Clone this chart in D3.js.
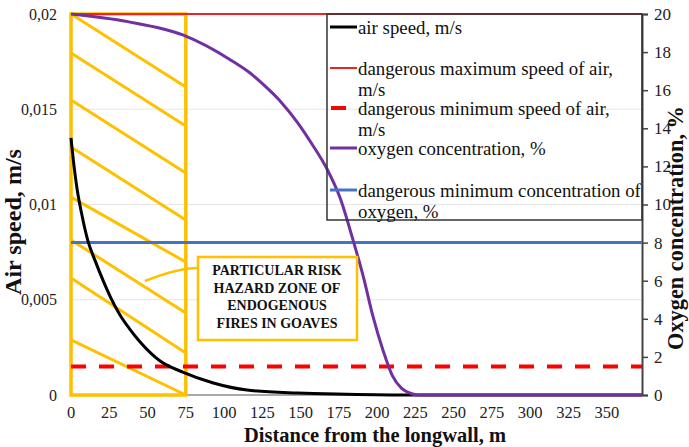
<!DOCTYPE html>
<html>
<head>
<meta charset="utf-8">
<script src="https://cdn.jsdelivr.net/npm/d3@7"></script>
<style>
  body { margin: 0; background: #fff; }
  text { font-family: "Liberation Serif", "Times New Roman", serif; }
</style>
</head>
<body>
<div id="chart"></div>
<script>
// values
const speedDist = [0, 2, 4, 7, 11, 16, 21, 26, 32, 38, 45, 58, 73, 93, 115, 148, 180, 223, 373];
const airSpeed = [0.0135, 0.0120, 0.0108, 0.0095, 0.0081, 0.0070, 0.0060, 0.0051, 0.0042, 0.0035, 0.0028, 0.0018, 0.0012, 0.00063, 0.00026, 0.0001, 0.00004, 0, 0];

const oxyDist = [0, 37, 73, 104, 117, 127, 137, 148, 158, 167, 176, 184, 191, 197, 204, 210, 216, 222, 227, 373];
const oxygen = [20, 19.6, 18.9, 17.6, 16.9, 16.2, 15.4, 14.3, 13.1, 11.9, 10.3, 8.2, 6.2, 4.2, 2.3, 1.0, 0.35, 0.08, 0, 0];

const maxSpeed = 0.02;
const minSpeed = 0.0015;
const minOxygen = 8;
const zoneEnd = 75;

const xTicks = d3.range(0, 351, 25);
const leftTicks = [0, 0.005, 0.01, 0.015, 0.02];
const rightTicks = d3.range(0, 21, 2);

// hatch lines of the risk zone: speed at x=0 and at x=75
const hatchLeft = [0.02, 0.01795, 0.01549, 0.01302, 0.01039, 0.00814, 0.00614, 0.00289];
const hatchRight = [0.01617, 0.01412, 0.01165, 0.00919, 0.00698, 0.0043, 0.0022, 0];

const legendItems = [
  { lines: ["air speed, m/s"], color: "#000", dash: null, w: 3 },
  { lines: ["dangerous maximum speed of air,", "m/s"], color: "#e8252b", dash: null, w: 2 },
  { lines: ["dangerous minimum speed of air,", "m/s"], color: "#ff0000", dash: "short", w: 4 },
  { lines: ["oxygen concentration, %"], color: "#7030a0", dash: null, w: 3 },
  { lines: ["dangerous minimum concentration of", "oxygen, %"], color: "#4472c4", dash: null, w: 3 }
];
const zoneLabel = ["PARTICULAR RISK", "HAZARD ZONE OF", "ENDOGENOUS", "FIRES IN GOAVES"];

const W = 689, H = 447;
const margin = { top: 14, left: 71, right: 47, bottom: 52 };
const iw = W - margin.left - margin.right;
const ih = H - margin.top - margin.bottom;
const yellow = "#ffc000";

// scale a text's font so it spans the width seen in the reference
function fitWidth(sel, target) {
  const len = sel.node().getComputedTextLength();
  const fs = +sel.attr("font-size");
  const nfs = fs * target / len;
  sel.attr("font-size", nfs);
  return nfs;
}

const svg = d3.select("#chart").append("svg")
  .attr("width", W).attr("height", H);
const g = svg.append("g")
  .attr("transform", `translate(${margin.left},${margin.top})`);

const x = d3.scaleLinear().domain([0, 373]).range([0, iw]);
const yL = d3.scaleLinear().domain([0, 0.02]).range([ih, 0]);
const yR = d3.scaleLinear().domain([0, 20]).range([ih, 0]);

// gridlines
g.selectAll(".grid").data(leftTicks.slice(1, 4)).enter().append("line")
  .attr("x1", 0).attr("x2", iw)
  .attr("y1", d => yL(d)).attr("y2", d => yL(d))
  .attr("stroke", "#e6e6e6").attr("stroke-width", 1);

// bottom axis line
g.append("line").attr("x1", 0).attr("x2", iw).attr("y1", ih).attr("y2", ih)
  .attr("stroke", "#8c8c8c").attr("stroke-width", 1.5);

// left tick labels
g.selectAll(".lt").data(leftTicks).enter().append("text")
  .attr("x", -14).attr("y", d => yL(d)).attr("dy", "0.35em")
  .attr("text-anchor", "end").attr("font-size", 16).attr("fill", "#222")
  .text(d => d === 0 ? "0" : String(d).replace(".", ","));

// bottom tick labels
g.selectAll(".bt").data(xTicks).enter().append("text")
  .attr("x", d => x(d)).attr("y", ih + 23)
  .attr("text-anchor", "middle").attr("font-size", 16.5).attr("fill", "#222")
  .text(d => d);

// right axis
const rightAxis = d3.axisRight(yR).tickValues(rightTicks).tickSize(6).tickPadding(6);
const ra = g.append("g").attr("transform", `translate(${iw},0)`).call(rightAxis);
ra.select(".domain").attr("stroke", "#444").attr("stroke-width", 2);
ra.selectAll(".tick line").attr("stroke", "#444").attr("stroke-width", 1.5);
ra.selectAll(".tick text").attr("font-size", 17).attr("fill", "#222");

// risk zone box + hatch
g.selectAll(".hatch").data(hatchLeft).enter().append("line")
  .attr("x1", x(0)).attr("x2", x(zoneEnd))
  .attr("y1", d => yL(d)).attr("y2", (d, i) => yL(hatchRight[i]))
  .attr("stroke", yellow).attr("stroke-width", 3);
g.append("rect")
  .attr("x", x(0)).attr("y", yL(0.02))
  .attr("width", x(zoneEnd) - x(0)).attr("height", yL(0) - yL(0.02))
  .attr("fill", "none").attr("stroke", yellow).attr("stroke-width", 3.5);

// reference lines
g.append("line").attr("x1", 0).attr("x2", iw)
  .attr("y1", yL(maxSpeed)).attr("y2", yL(maxSpeed))
  .attr("stroke", "#e8252b").attr("stroke-width", 2);
g.append("line").attr("x1", 0).attr("x2", iw)
  .attr("y1", yL(minSpeed)).attr("y2", yL(minSpeed))
  .attr("stroke", "#ff0000").attr("stroke-width", 4).attr("stroke-dasharray", "15,13");
g.append("line").attr("x1", 0).attr("x2", iw)
  .attr("y1", yR(minOxygen)).attr("y2", yR(minOxygen))
  .attr("stroke", "#4472c4").attr("stroke-width", 3);

// air speed
const speedLine = d3.line()
  .x((d, i) => x(speedDist[i])).y(d => yL(d))
  .curve(d3.curveMonotoneX);
g.append("path").datum(airSpeed).attr("d", speedLine)
  .attr("fill", "none").attr("stroke", "#000").attr("stroke-width", 3);

// oxygen
const oxyLine = d3.line()
  .x((d, i) => x(oxyDist[i])).y(d => yR(d))
  .curve(d3.curveMonotoneX);
g.append("path").datum(oxygen).attr("d", oxyLine)
  .attr("fill", "none").attr("stroke", "#7030a0").attr("stroke-width", 3);

// legend
const lg = svg.append("g");
lg.append("rect").attr("x", 327).attr("y", 14).attr("width", 642 - 327).attr("height", 206)
  .attr("fill", "none").attr("stroke", "#333").attr("stroke-width", 1.5);
const rowY = [27, 68, 108, 148, 190];
// size the legend font from its longest reference line
const probe = lg.append("text").attr("font-size", 18).text(legendItems[1].lines[0]);
const legendFs = Math.min(19, fitWidth(probe, 255));
probe.remove();
legendItems.forEach((it, i) => {
  const yy = rowY[i];
  if (it.dash === "short") {
    lg.append("line").attr("x1", 331).attr("x2", 346).attr("y1", yy).attr("y2", yy)
      .attr("stroke", it.color).attr("stroke-width", it.w);
  } else {
    lg.append("line").attr("x1", 330).attr("x2", 357).attr("y1", yy).attr("y2", yy)
      .attr("stroke", it.color).attr("stroke-width", it.w);
  }
  it.lines.forEach((t, j) => {
    lg.append("text").attr("x", 358).attr("y", yy + j * 21).attr("dy", "0.35em")
      .attr("font-size", legendFs).attr("fill", "#111").text(t);
  });
});

// zone label callout
svg.append("path").attr("d", "M198,268 Q178,268 145,281")
  .attr("fill", "none").attr("stroke", yellow).attr("stroke-width", 2.5);
svg.append("rect").attr("x", 198).attr("y", 257).attr("width", 159).attr("height", 83)
  .attr("fill", "#fff").attr("stroke", yellow).attr("stroke-width", 2.5);
zoneLabel.forEach((t, i) => {
  svg.append("text").attr("x", 277).attr("y", 275 + i * 17.7)
    .attr("text-anchor", "middle").attr("font-size", 14).attr("font-weight", "bold")
    .attr("fill", "#111").text(t);
});

// axis titles
const bt = svg.append("text").attr("x", 375).attr("y", 442)
  .attr("text-anchor", "middle").attr("font-size", 18).attr("font-weight", "bold")
  .attr("fill", "#111").text("Distance from the longwall, m");
fitWidth(bt, 262);
const lt = svg.append("text").attr("transform", "translate(21,222) rotate(-90)")
  .attr("text-anchor", "middle").attr("font-size", 18).attr("font-weight", "bold")
  .attr("fill", "#111").text("Air speed, m/s");
fitWidth(lt, 146);
const rt = svg.append("text").attr("transform", "translate(683,228) rotate(-90)")
  .attr("text-anchor", "middle").attr("font-size", 18).attr("font-weight", "bold")
  .attr("fill", "#111").text("Oxygen concentration, %");
fitWidth(rt, 244);
</script>
</body>
</html>
